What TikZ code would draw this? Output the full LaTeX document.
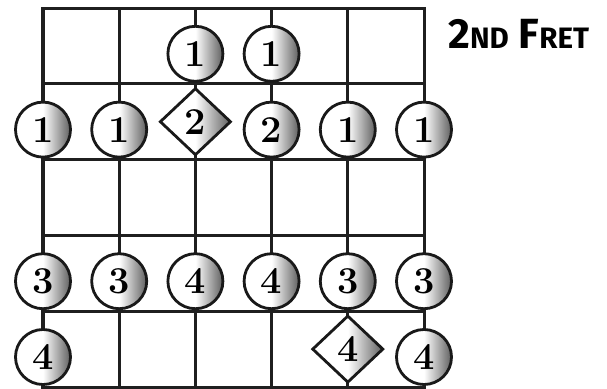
\documentclass[tikz,border=0pt]{standalone}
\usepackage{fontspec}
\usepackage{tikz}
\usetikzlibrary{shapes.geometric}
\newfontfamily\titlefont{Fira Sans}
\newcommand\titlesmall[1]{{\fontsize{21}{21}\selectfont #1}}
\pgfdeclarehorizontalshading{dotshade}{100bp}{color(0bp)=(white); color(50bp)=(white); color(76bp)=(black!65); color(100bp)=(black!65)}

\begin{document}
\begin{tikzpicture}[
        x=0.025cm, y=-0.025cm,
        fretline/.style={
            line width=0.075cm,
            draw=black!88,
            line cap=rect
        },
        finger/.style={
            circle,
            draw=black!90,
            line width=0.07cm,
            shading=dotshade,
            minimum size=1.375cm,
            inner sep=0pt,
            font=\bfseries\fontsize{27}{27}\selectfont
        },
        rootnote/.style={
            diamond,
            draw=black!90,
            line width=0.07cm,
            shading=dotshade,
            minimum width=1.78cm,
            minimum height=1.68cm,
            inner sep=0pt,
            font=\bfseries\fontsize{27}{27}\selectfont
        },
        fretlabel/.style={
            font=\titlefont\bfseries\fontsize{30}{30}\selectfont,
            inner sep=0pt
        }
    ]

    \useasboundingbox (0,0) rectangle (607,389);

    \foreach \s in {0,...,5}
        \draw [fretline] ({43+76.2*\s},8) -- ({43+76.2*\s},387);
    \foreach \f in {0,...,5}
        \draw [fretline] (43,{8+75.8*\f}) -- (424,{8+75.8*\f});

    \foreach \s/\f/\n in {3/1/1, 4/1/1,
                          1/2/1, 2/2/1, 4/2/2, 5/2/1, 6/2/1,
                          1/4/3, 2/4/3, 3/4/4, 4/4/4, 5/4/3, 6/4/3,
                          1/5/4, 6/5/4}
        \node (dot\s-\f) [finger] at ({43+76.2*(\s-1)},{8+75.8*\f-30}) {\n};

    \node (root3-2) [rootnote] at ({43+76.2*2},{8+75.8*1.5}) {2};
    \node (root5-5) [rootnote] at ({43+76.2*4},{8+75.8*4.5}) {4};

    \node (fret) [fretlabel, anchor=base west] at (448,48) {2\titlesmall{ND} F\titlesmall{RET}};

\end{tikzpicture}
\end{document}
